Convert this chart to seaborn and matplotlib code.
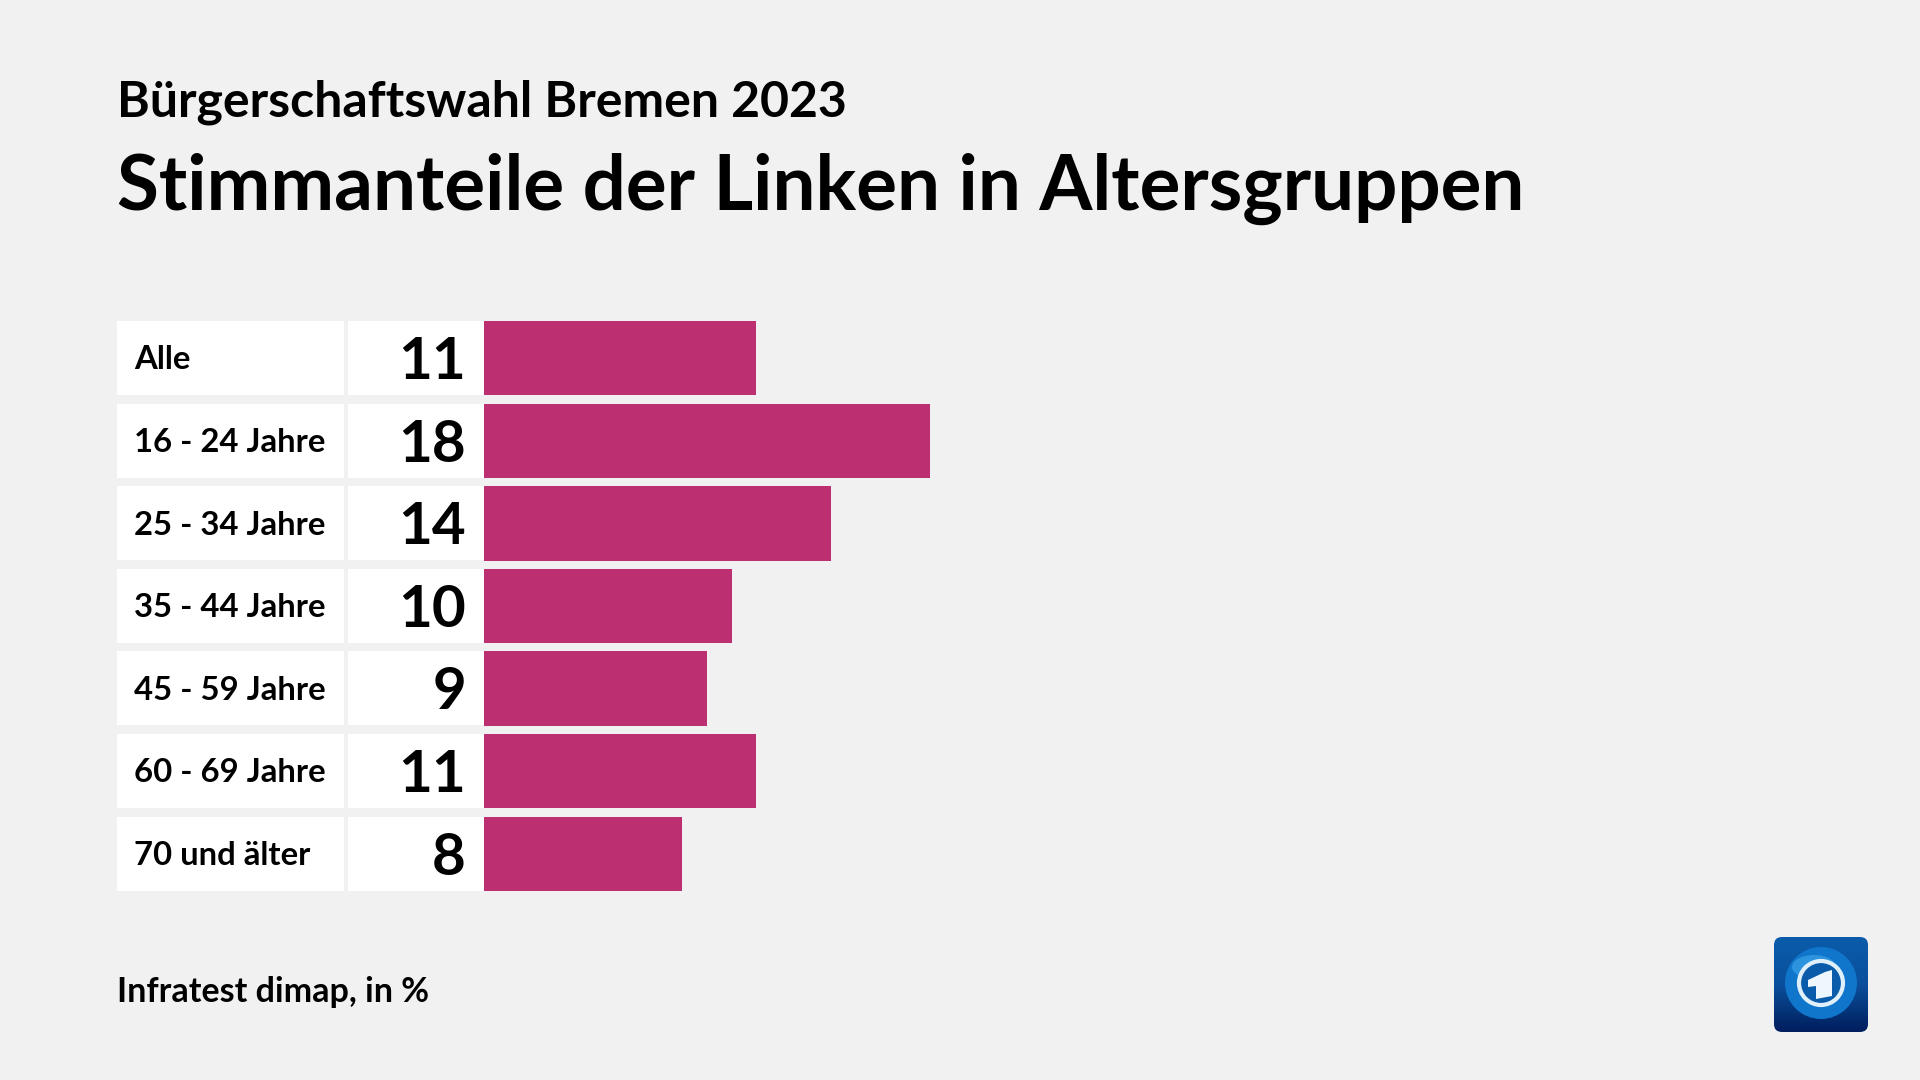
import numpy as np
import pandas as pd
import seaborn as sns
import matplotlib.pyplot as plt
from matplotlib.patches import Rectangle, FancyBboxPatch, Circle, Polygon, Ellipse

groups = ['Alle', '16 - 24 Jahre', '25 - 34 Jahre', '35 - 44 Jahre', '45 - 59 Jahre', '60 - 69 Jahre', '70 und älter']
values = [11, 18, 14, 10, 9, 11, 8]

sns.set_theme(style='white')
plt.rcParams['font.family'] = ['Lato', 'DejaVu Sans']

W, H = 1920, 1080
BG = '#f1f1f1'
fig = plt.figure(figsize=(W / 100, H / 100), dpi=100, facecolor=BG)

# bars axes: x=0 at px 484, one percent is 24.75 px
x0, x1 = 484, 1880
top, bottom = 321, 891
ax = fig.add_axes([x0 / W, 1 - bottom / H, (x1 - x0) / W, (bottom - top) / H])
df = pd.DataFrame({'group': groups, 'value': values})
sns.barplot(data=df, x='value', y='group', color='#bc3071', saturation=1, width=0.9, linewidth=0, ax=ax)
ax.set_xlim(0, (x1 - x0) / 24.75)
ax.set_ylim(len(groups) - 0.55, -0.45)
ax.axis('off')

# white label cells and texts, one per row
row_h = 82.6
for i, (g, v) in enumerate(zip(groups, values)):
    yt = 321 + i * row_h
    fig.add_artist(Rectangle((117 / W, 1 - (yt + 74) / H), 227 / W, 74 / H, transform=fig.transFigure, fc='white', ec='none'))
    fig.add_artist(Rectangle((348 / W, 1 - (yt + 74) / H), 136 / W, 74 / H, transform=fig.transFigure, fc='white', ec='none'))
    fig.text(134 / W, 1 - (yt + 39) / H, g, fontsize=23.7, fontweight='bold', color='black', va='center', ha='left')
    fig.text(466 / W, 1 - (yt + 41.5) / H, str(v), fontsize=42, fontweight='bold', color='black', va='center', ha='right')

fig.text(117 / W, 1 - 102 / H, 'Bürgerschaftswahl Bremen 2023', fontsize=36, fontweight='bold', color='black', va='center')
fig.text(117 / W, 1 - 189 / H, 'Stimmanteile der Linken in Altersgruppen', fontsize=55, fontweight='bold', color='black', va='center')
fig.text(117 / W, 1 - 992 / H, 'Infratest dimap, in %', fontsize=24.5, fontweight='bold', color='black', va='center')

# logo
logo = fig.add_axes([1774 / W, 1 - 1032 / H, 94 / W, 95 / H])
logo.set_xlim(0, 94)
logo.set_ylim(95, 0)
logo.axis('off')
box = FancyBboxPatch((0, 0), 94, 95, boxstyle='round,pad=0,rounding_size=8', fc='none', ec='none')
logo.add_patch(box)
grad = logo.imshow(np.linspace(0, 1, 64).reshape(-1, 1), extent=(0, 94, 95, 0), aspect='auto', cmap=sns.blend_palette(['#0a5cab', '#0b4f9c', '#001f5e'], as_cmap=True))
grad.set_clip_path(box)
logo.add_patch(Circle((47, 46), 36, fc='#0f76cc', ec='none'))
logo.add_patch(Ellipse((40, 30), 44, 24, fc='#39a0e6', ec='none', alpha=0.7))
logo.add_patch(Circle((47, 46), 22, fc='#0a5cab', ec='#dff0fb', lw=3))
logo.add_patch(Polygon([(34, 43), (51, 35), (58, 33), (58, 59), (42, 62), (42, 49), (34, 50)], fc='#eef7fd', ec='none'))
logo.set_xlim(0, 94)
logo.set_ylim(95, 0)

fig.savefig('out.png', dpi=100, facecolor=BG)
